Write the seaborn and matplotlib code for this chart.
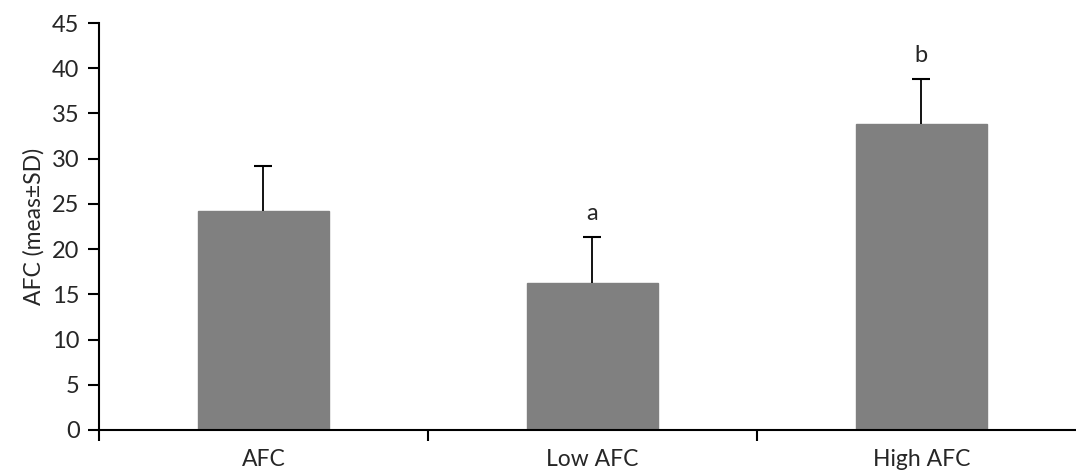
import matplotlib
matplotlib.use("Agg")
import matplotlib.pyplot as plt
import seaborn as sns
import pandas as pd
import numpy as np

categories = ["AFC", "Low AFC", "High AFC"]
means = [24.2, 16.3, 33.8]
sds = [5.0, 5.0, 5.0]
letters = ["", "a", "b"]

sns.set_theme(style="white")
plt.rcParams['font.family'] = ['Lato', 'DejaVu Sans']

fig = plt.figure(figsize=(10.76, 4.75), dpi=100)
ax = fig.add_axes([99/1076, 1-430/475, 1-99/1076, (430-23)/475])

df = pd.DataFrame({"cat": categories, "mean": means})
sns.barplot(data=df, x="cat", y="mean", color="#808080", saturation=1,
            width=0.4, errorbar=None, ax=ax, edgecolor="#808080")

x = np.arange(len(categories))
tops = np.array(means) + np.array(sds)
ax.vlines(x, means, tops, color="black", linewidth=1.3)
ax.plot(x, tops, linestyle="none", marker="_", markersize=13, markeredgewidth=1.5, color="black")

for xi, top, t in zip(x, tops, letters):
    if t:
        ax.text(xi, top + 1.5, t, ha="center", va="bottom", fontsize=17)

ax.set_ylim(0, 45)
ax.set_yticks(np.arange(0, 46, 5))
ax.set_xlim(-0.5, 2.47)
ax.set_xticks(x)
ax.set_xticklabels(categories, fontsize=16.5)
ax.set_xticks([-0.5, 0.5, 1.5], minor=True)
ax.tick_params(axis="x", which="major", length=0, pad=14)
ax.tick_params(axis="x", which="minor", length=8, width=1.5, color="black", direction="out", bottom=True)
ax.tick_params(axis="y", length=8, width=1.5, color="black", direction="out", left=True, labelsize=17, pad=6)
ax.set_xlabel("")
ax.set_ylabel("AFC (meas±SD)", fontsize=16.5, labelpad=5)

for s in ["top", "right"]:
    ax.spines[s].set_visible(False)
for s in ["left", "bottom"]:
    ax.spines[s].set_color("black")
    ax.spines[s].set_linewidth(1.5)

fig.savefig("out.png", dpi=100)
